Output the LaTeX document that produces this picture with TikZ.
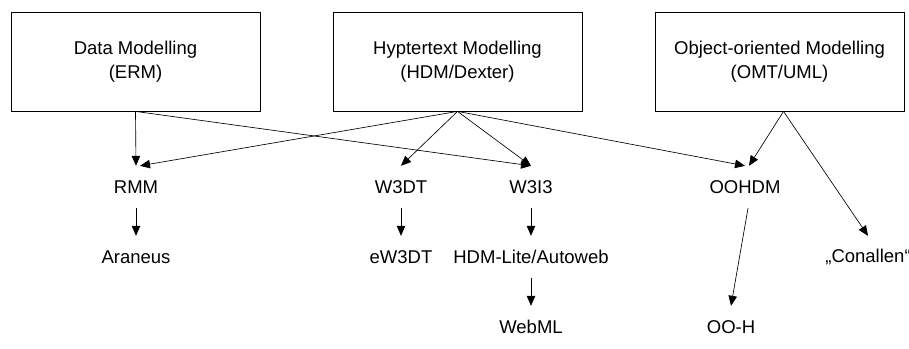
\documentclass[tikz,border=0pt]{standalone}
\usepackage{fontspec}
\setmainfont{Liberation Sans}
\usepackage{tikz}
\usetikzlibrary{positioning, arrows.meta}
\tikzstyle{area} = [rectangle, minimum width=249pt, minimum height=99pt, text centered, align=center, draw=black, line width=0.8pt]
\tikzstyle{method} = [rectangle, minimum height=42pt, inner sep=2pt, text centered]
\tikzstyle{arrow} = [->,>={Triangle[length=10pt,width=8.5pt]}, line width=0.65pt]
\tikzstyle{every node}=[font=\fontsize{18.5}{23.5}\selectfont]

\begin{document}
\begin{tikzpicture}[x=1pt, y=1pt, node distance=70pt]
		\useasboundingbox (0,0) rectangle (909,-348);
		%Bereiche
		\node (data) [area] at (135.5,-61.5) {Data Modelling\\(ERM)};
		\node (hyper) [area] at (457.5,-61.5) {Hyptertext Modelling\\(HDM/Dexter)};
		\node (object) [area] at (779.5,-61.5) {Object-oriented Modelling\\(OMT/UML)};
		
		%Methoden
		\node (rmm) [method] at (136,-187) {RMM};
		\node (araneus) [method, below of=rmm] {Araneus};
		\node (w3dt) [method] at (401,-187) {W3DT};
		\node (ew3dt) [method, below of=w3dt] {eW3DT};
		\node (w3i3) [method] at (531,-187) {W3I3};
		\node (autoweb) [method, below of=w3i3] {HDM-Lite/Autoweb};
		\node (webml) [method, below of=autoweb] {WebML};
		\node (oohdm) [method] at (745,-187) {OOHDM};
		\node (ooh) [method] at (731,-327) {OO-H};
		\node (conallen) [method] at (868,-257) {„Conallen“};
		
		%Verbindungen
		\draw [arrow](data.south) -- (rmm.north);
		\draw [arrow](data.south) -- (w3i3.north);
		\draw [arrow](hyper.south) -- ([xshift=4]rmm.north);
		\draw [arrow](hyper.south) -- (w3dt.north);
		\draw [arrow](hyper.south) -- (w3i3.north);
		\draw [arrow](hyper.south) -- (oohdm.north);
		\draw [arrow]([xshift=4]object.south) -- ([xshift=4]oohdm.north);
		\draw [arrow]([xshift=4]object.south) -- (conallen.north);
		\draw [arrow](rmm) -- (araneus);
		\draw [arrow](w3dt) -- (ew3dt);
		\draw [arrow](w3i3) -- (autoweb);
		\draw [arrow](autoweb) -- (webml);
		\draw [arrow]([xshift=3]oohdm.south) -- (ooh.north);
		
	\end{tikzpicture}
\end{document}
